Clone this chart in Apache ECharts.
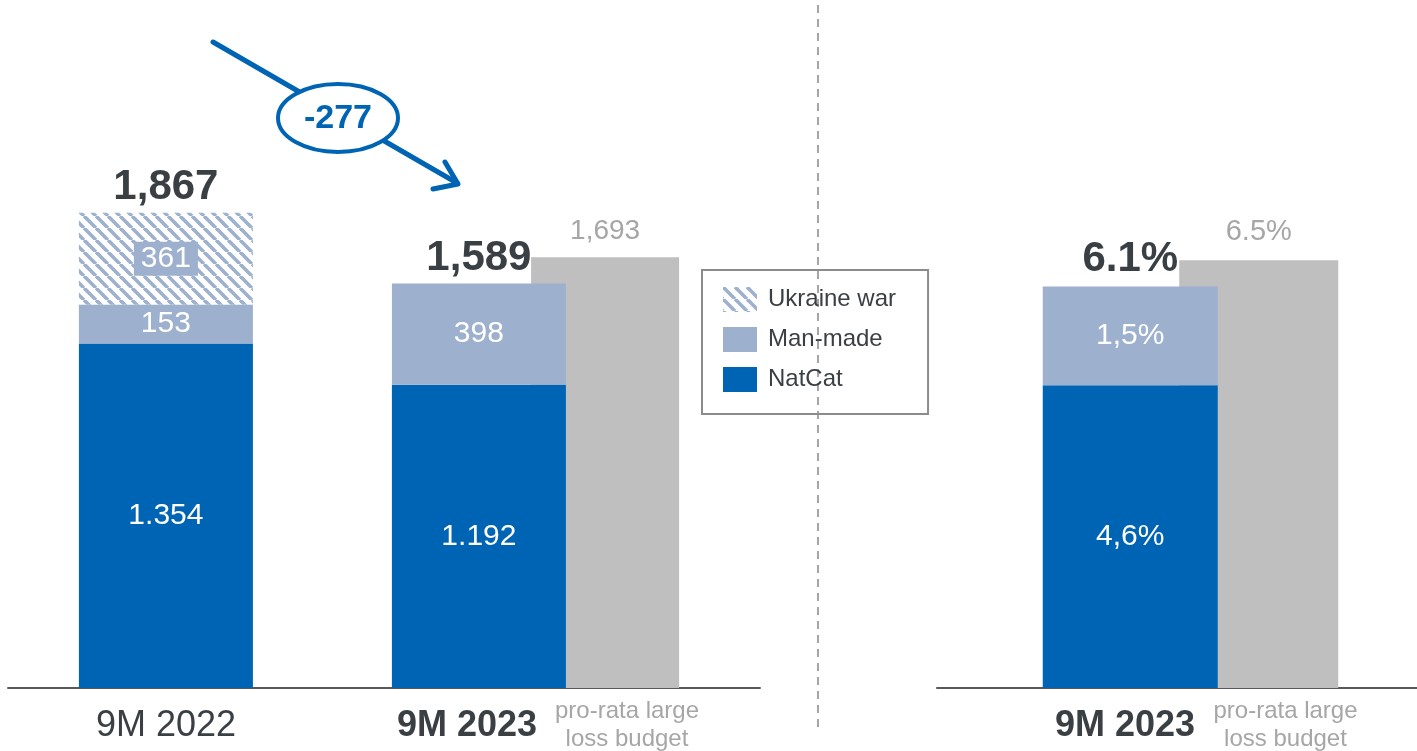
<!DOCTYPE html>
<html><head><meta charset="utf-8">
<script src="https://cdn.jsdelivr.net/npm/echarts@6/dist/echarts.min.js"></script>
<style>html,body{margin:0;padding:0;background:#fff}#c{width:1417px;height:751px}</style>
</head><body><div id="c"></div>
<script>
// ---- data ----
const categories = ['9M 2022', '9M 2023'];
const budgetCategories = ['', 'pro-rata large\nloss budget'];
const natCat = [1354, 1192];
const manMade = [153, 398];
const ukraineWar = [361, null];
const totals = [1867, 1589];
const budget = [null, 1693];
const change = [-277];
const pctCategories = ['9M 2023'];
const pctBudgetCategories = ['pro-rata large\nloss budget'];
const natCatPct = [4.6];
const manMadePct = [1.5];
const totalPct = [6.1];
const budgetPct = [6.5];
const legendNames = ['Ukraine war', 'Man-made', 'NatCat'];

// ---- styles ----
const FONT = "'Liberation Sans', Arial, sans-serif";
const BLUE = '#0064B4', LIGHT = '#9DB0CD', GREY = '#BFBFBF', DARK = '#3A3F44', GTEXT = '#A6A6A6';
const sep = (v, ch) => String(v).replace(/\B(?=(\d{3})+(?!\d))/g, ch);
const pctComma = v => v.toFixed(1).replace('.', ',') + '%';
const pctDot = v => v.toFixed(1) + '%';

function hatch() {
  const s = 12, c = document.createElement('canvas');
  c.width = s; c.height = s;
  const g = c.getContext('2d');
  g.fillStyle = '#fff'; g.fillRect(0, 0, s, s);
  g.strokeStyle = LIGHT; g.lineWidth = 3.6;
  for (const o of [-s, 0, s]) { g.beginPath(); g.moveTo(o, 0); g.lineTo(o + s, s); g.stroke(); }
  return c;
}
const hatchFill = { image: hatch(), repeat: 'repeat' };

const inLabel = { show: true, position: 'inside', color: '#fff', fontSize: 30, fontFamily: FONT };
const totalLabel = { show: true, position: 'top', color: DARK, fontSize: 42, fontWeight: 'bold', fontFamily: FONT };
const budgetLabelStyle = { show: true, position: 'top', color: GTEXT, fontSize: 28, fontFamily: FONT };
const greyRich = pad => ({ g: { fontSize: 24, color: GTEXT, fontFamily: FONT, lineHeight: 28, padding: [0, 0, 0, pad] } });
const greyFmt = v => v ? v.split('\n').map(l => '{g|' + l + '}').join('\n') : '';
const noLine = { show: false }, noTick = { show: false };
const baseLine = { lineStyle: { color: '#595959', width: 2 } };

const chart = echarts.init(document.getElementById('c'), null, { renderer: 'canvas' });
chart.setOption({
  animation: false,
  backgroundColor: '#fff',
  grid: [
    { left: 66, right: 725, top: 52, bottom: 63 },
    { left: 8, right: 657, top: 52, bottom: 63 },
    { left: 964, right: 0, top: 30, bottom: 63 },
    { left: 937, right: 0, top: 30, bottom: 63 }
  ],
  xAxis: [
    { gridIndex: 0, type: 'category', data: categories, axisLine: noLine, axisTick: noTick,
      axisLabel: { interval: 0, margin: 20, formatter: (v, i) => (i === 0 ? '{a|' : '{b|') + v + '}',
        rich: { a: { fontSize: 36, color: DARK, fontFamily: FONT, padding: [0, 113, 0, 0] },
                b: { fontSize: 36, color: DARK, fontWeight: 'bold', fontFamily: FONT, padding: [0, 137, 0, 0] } } } },
    { gridIndex: 0, type: 'category', position: 'bottom', data: budgetCategories, axisLine: noLine, axisTick: noTick,
      axisLabel: { interval: 0, margin: 9, formatter: greyFmt, rich: greyRich(183) } },
    { gridIndex: 1, type: 'category', data: [''], axisLine: baseLine, axisTick: noTick, axisLabel: { show: false } },
    { gridIndex: 2, type: 'category', data: pctCategories, axisLine: noLine, axisTick: noTick,
      axisLabel: { interval: 0, margin: 20, formatter: v => '{b|' + v + '}',
        rich: { b: { fontSize: 36, color: DARK, fontWeight: 'bold', fontFamily: FONT, padding: [0, 131, 0, 0] } } } },
    { gridIndex: 2, type: 'category', position: 'bottom', data: pctBudgetCategories, axisLine: noLine, axisTick: noTick,
      axisLabel: { interval: 0, margin: 9, formatter: greyFmt, rich: greyRich(190) } },
    { gridIndex: 3, type: 'category', data: [''], axisLine: baseLine, axisTick: noTick, axisLabel: { show: false } }
  ],
  yAxis: [
    { gridIndex: 0, type: 'value', min: 0, max: 2500, show: false },
    { gridIndex: 1, type: 'value', min: 0, max: 1, show: false },
    { gridIndex: 2, type: 'value', min: 0, max: 10, show: false },
    { gridIndex: 3, type: 'value', min: 0, max: 1, show: false }
  ],
  legend: {
    data: legendNames.map(n => ({ name: n, icon: 'rect' })),
    orient: 'vertical', left: 702, top: 270, itemWidth: 34, itemHeight: 25, itemGap: 15,
    padding: [17, 32, 22, 21], borderColor: '#8C8C8C', borderWidth: 2, selectedMode: false,
    textStyle: { fontSize: 24, color: DARK, fontFamily: FONT, padding: [0, 0, 0, 6] }
  },
  series: [
    { name: 'NatCat', type: 'bar', xAxisIndex: 0, yAxisIndex: 0, stack: 'a', barWidth: 174, barGap: '-20%', z: 3,
      data: natCat, itemStyle: { color: BLUE }, label: { ...inLabel, formatter: p => sep(p.value, '.') } },
    { name: 'Man-made', type: 'bar', xAxisIndex: 0, yAxisIndex: 0, stack: 'a', barWidth: 174, barGap: '-20%', z: 3,
      data: manMade, itemStyle: { color: LIGHT }, label: { ...inLabel, formatter: p => String(p.value) } },
    { name: 'Ukraine war', type: 'bar', xAxisIndex: 0, yAxisIndex: 0, stack: 'a', barWidth: 174, barGap: '-20%', z: 3,
      data: ukraineWar, itemStyle: { color: hatchFill },
      label: { ...inLabel, backgroundColor: LIGHT, padding: [3, 7, 1, 7], formatter: p => String(p.value) } },
    { name: 'total', type: 'bar', xAxisIndex: 0, yAxisIndex: 0, stack: 'a', barWidth: 174, barGap: '-20%', z: 3,
      data: totals.map(() => 0), itemStyle: { color: 'rgba(0,0,0,0)' },
      label: { ...totalLabel, distance: 4, formatter: p => sep(totals[p.dataIndex], ',') } },
    { name: 'budget', type: 'bar', xAxisIndex: 0, yAxisIndex: 0, stack: 'b', barWidth: 148, barGap: '-20%', z: 1,
      data: budget, itemStyle: { color: GREY }, label: { ...budgetLabelStyle, distance: 12, formatter: p => sep(p.value, ',') } },

    { name: 'NatCat', type: 'bar', xAxisIndex: 3, yAxisIndex: 2, stack: 'p', barWidth: 175, barGap: '-22%', z: 3,
      data: natCatPct, itemStyle: { color: BLUE }, label: { ...inLabel, formatter: p => pctComma(p.value) } },
    { name: 'Man-made', type: 'bar', xAxisIndex: 3, yAxisIndex: 2, stack: 'p', barWidth: 175, barGap: '-22%', z: 3,
      data: manMadePct, itemStyle: { color: LIGHT }, label: { ...inLabel, formatter: p => pctComma(p.value) } },
    { name: 'totalPct', type: 'bar', xAxisIndex: 3, yAxisIndex: 2, stack: 'p', barWidth: 175, barGap: '-22%', z: 3,
      data: totalPct.map(() => 0), itemStyle: { color: 'rgba(0,0,0,0)' },
      label: { ...totalLabel, distance: 6, formatter: p => pctDot(totalPct[p.dataIndex]) } },
    { name: 'budgetPct', type: 'bar', xAxisIndex: 3, yAxisIndex: 2, stack: 'q', barWidth: 159, barGap: '-22%', z: 1,
      data: budgetPct, itemStyle: { color: GREY }, label: { ...budgetLabelStyle, fontSize: 29, distance: 14, formatter: p => pctDot(p.value) } }
  ],
  graphic: [
    { type: 'line', z: 0, shape: { x1: 818, y1: 5, x2: 818, y2: 730 }, style: { stroke: '#A6A6A6', lineWidth: 2, lineDash: [8, 6] } },
    { type: 'polyline', z: 10, shape: { points: [[213, 42], [457, 183]] }, style: { stroke: BLUE, lineWidth: 5, lineCap: 'round' } },
    { type: 'polyline', z: 10, shape: { points: [[433, 189], [458, 184], [445, 162]] }, style: { stroke: BLUE, lineWidth: 5, lineCap: 'round', lineJoin: 'round', fill: null } },
    { type: 'ellipse', z: 11, shape: { cx: 338, cy: 118, rx: 60, ry: 34 }, style: { fill: '#fff', stroke: BLUE, lineWidth: 4 } },
    { type: 'text', z: 12, x: 338, y: 119, style: { text: String(change[0]), fill: BLUE, font: "bold 34px 'Liberation Sans', Arial, sans-serif", textAlign: 'center', textVerticalAlign: 'middle' } }
  ]
});
</script>
</body></html>
